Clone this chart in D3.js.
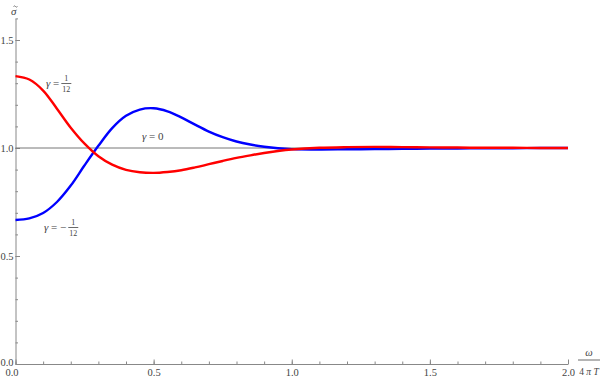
<!DOCTYPE html>
<html>
<head>
<meta charset="utf-8">
<script src="https://cdn.jsdelivr.net/npm/d3@7"></script>
<style>
  body { margin: 0; background: #fff; }
  svg text { font-family: "Liberation Serif", "Times New Roman", Times, serif; }
</style>
</head>
<body>
<div id="graph"></div>
<script>
// omega / 4 pi T samples
const omega = [0, 0.05, 0.1, 0.15, 0.2, 0.25, 0.3, 0.35, 0.4, 0.45, 0.5, 0.55, 0.6, 0.65, 0.7, 0.75,
  0.8, 0.85, 0.9, 0.95, 1.0, 1.1, 1.2, 1.3, 1.4, 1.5, 1.6, 1.7, 1.8, 1.9, 2.0];
// gamma = 1/12
const sigmaPlus = [1.333, 1.317, 1.266, 1.182, 1.094, 1.020, 0.962, 0.923, 0.899, 0.888, 0.885, 0.889,
  0.897, 0.910, 0.925, 0.940, 0.954, 0.966, 0.977, 0.986, 0.993, 1.001, 1.004, 1.005, 1.004, 1.003,
  1.002, 1.001, 1.001, 1.000, 1.000];
// gamma = -1/12
const sigmaMinus = [0.667, 0.674, 0.699, 0.750, 0.826, 0.920, 1.010, 1.092, 1.149, 1.178, 1.184, 1.170,
  1.142, 1.108, 1.076, 1.050, 1.030, 1.016, 1.006, 0.999, 0.995, 0.993, 0.994, 0.995, 0.996, 0.997,
  0.998, 0.999, 0.999, 1.000, 1.000];
const xMajor = [0, 0.5, 1, 1.5, 2];
const yMajor = [0, 0.5, 1, 1.5];
const xMinor = d3.range(0, 2.0001, 0.1);
const yMinor = d3.range(0, 1.6001, 0.1);

const width = 600;
const height = 381;

const svg = d3.select("#graph").append("svg")
  .attr("width", width)
  .attr("height", height);

const x = d3.scaleLinear().domain([0, 2]).range([15.5, 568]);
const y = d3.scaleLinear().domain([0, 1.6]).range([364, 18.4]);

const axisColor = "#888";
const textColor = "#444";

// minor ticks
svg.append("g")
  .attr("transform", `translate(0,${y(0)})`)
  .call(d3.axisBottom(x).tickValues(xMinor).tickSize(-2.5).tickFormat(""))
  .call(g => g.select(".domain").remove())
  .call(g => g.selectAll("line").attr("stroke", axisColor));
svg.append("g")
  .attr("transform", `translate(${x(0)},0)`)
  .call(d3.axisLeft(y).tickValues(yMinor).tickSize(-2.5).tickFormat(""))
  .call(g => g.select(".domain").remove())
  .call(g => g.selectAll("line").attr("stroke", axisColor));

// major axes
const xAxis = svg.append("g")
  .attr("transform", `translate(0,${y(0)})`)
  .call(d3.axisBottom(x).tickValues(xMajor).tickSize(-4.5).tickSizeOuter(0)
    .tickPadding(5).tickFormat(d3.format(".1f")));
xAxis.attr("font-family", null);
xAxis.select(".domain").attr("stroke", axisColor);
xAxis.selectAll("line").attr("stroke", axisColor);
xAxis.selectAll("text")
  .attr("font-size", 10.5)
  .attr("fill", textColor)
  .attr("dx", d => d === 0 ? -4 : 0);

const yAxis = svg.append("g")
  .attr("transform", `translate(${x(0)},0)`)
  .call(d3.axisLeft(y).tickValues(yMajor).tickSize(-4.5).tickSizeOuter(0)
    .tickPadding(2).tickFormat(d3.format(".1f")));
yAxis.attr("font-family", null);
yAxis.select(".domain").attr("stroke", axisColor);
yAxis.selectAll("line").attr("stroke", axisColor);
yAxis.selectAll("text")
  .attr("font-size", 10.5)
  .attr("fill", textColor)
  .attr("dy", d => d === 0 ? "0.1em" : "0.32em");

// gamma = 0 reference line
svg.append("line")
  .attr("x1", x(0)).attr("x2", x(2))
  .attr("y1", y(1)).attr("y2", y(1))
  .attr("stroke", "#777")
  .attr("stroke-width", 1);

const line = vals => d3.line()
  .x((d, i) => x(omega[i]))
  .y(d => y(d))
  .curve(d3.curveCatmullRom.alpha(0.5))(vals);

svg.append("path")
  .attr("d", line(sigmaMinus))
  .attr("fill", "none")
  .attr("stroke", "#0000ff")
  .attr("stroke-width", 2.4);

svg.append("path")
  .attr("d", line(sigmaPlus))
  .attr("fill", "none")
  .attr("stroke", "#ff0000")
  .attr("stroke-width", 2.4);

// labels
function gammaLabel(px, py, sign, num, den) {
  const g = svg.append("g").attr("transform", `translate(${px},${py})`)
    .attr("fill", textColor);
  const t = g.append("text").attr("font-size", 11);
  t.append("tspan").attr("font-style", "italic").text("γ");
  t.append("tspan").text(" = " + sign);
  const w = t.node().getComputedTextLength();
  if (den) {
    const fx = w + 2;
    g.append("text").attr("x", fx + 5).attr("y", -6).attr("font-size", 8)
      .attr("text-anchor", "middle").text(num);
    g.append("line").attr("x1", fx).attr("x2", fx + 10)
      .attr("y1", -3.5).attr("y2", -3.5).attr("stroke", textColor).attr("stroke-width", 0.8);
    g.append("text").attr("x", fx + 5).attr("y", 5).attr("font-size", 8)
      .attr("text-anchor", "middle").text(den);
  } else {
    t.append("tspan").text(num);
  }
}
gammaLabel(46, 87, "", "1", "12");
gammaLabel(142, 140, "", "0", null);
gammaLabel(44, 231, "−", "1", "12");

// axis titles: sigma with a tilde drawn above it
const st = svg.append("g").attr("fill", textColor);
st.append("text")
  .attr("x", 11).attr("y", 15)
  .attr("font-size", 11)
  .attr("font-style", "italic")
  .text("σ");
st.append("path")
  .attr("d", "M13.5,6.5 q1,-1.2 2,0 t2,0")
  .attr("fill", "none")
  .attr("stroke", textColor)
  .attr("stroke-width", 0.7);

const xt = svg.append("g").attr("transform", "translate(589,0)").attr("fill", textColor);
xt.append("text").attr("y", 356).attr("font-size", 10.5).attr("font-style", "italic")
  .attr("text-anchor", "middle").text("ω");
xt.append("line").attr("x1", -11).attr("x2", 11).attr("y1", 360).attr("y2", 360)
  .attr("stroke", textColor).attr("stroke-width", 0.8);
xt.append("text").attr("y", 375).attr("font-size", 9.5)
  .attr("text-anchor", "middle")
  .call(t => {
    t.append("tspan").text("4 ");
    t.append("tspan").attr("font-style", "italic").text("π T");
  });
</script>
</body>
</html>
